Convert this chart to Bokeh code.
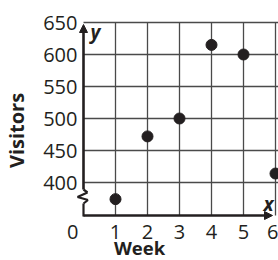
from bokeh.plotting import figure
from bokeh.models import (Range1d, FixedTicker, Arrow, NormalHead, Label,
                          LinearAxis, ColumnDataSource, Grid)
from bokeh.embed import file_html
from bokeh.resources import INLINE

weeks = [1, 2, 3, 4, 5, 6]
visitors = [374, 472, 500, 615, 600, 414]
x_ticks = [1, 2, 3, 4, 5, 6]
y_ticks = [400, 450, 500, 550, 600, 650]
x_title = "Week"
y_title = "Visitors"
origin_label = "0"
origin_pos = -0.34

INK = "#231f20"
GRID = "#4a4a4a"
FONT = "Open Sans"

# pixel geometry of the frame (covers the whole canvas)
px = 50 / 32.0          # data units per pixel on y
ux = 1 / 32.0           # data units per pixel on x
def yimg(v):
    return 650 - (v - 22) * px
def ximg(v):
    return (v - 83) * ux

W, H = 278, 260
y0 = yimg(215)          # height of the horizontal axis
p = figure(width=W, height=H, output_backend="svg", toolbar_location=None,
           x_range=Range1d(ximg(0), ximg(W)), y_range=Range1d(yimg(H), yimg(0)),
           x_axis_type=None, y_axis_type=None,
           min_border_left=0, min_border_bottom=0, min_border_top=0, min_border_right=0)
p.outline_line_color = None
p.background_fill_color = "white"

yax = LinearAxis(ticker=FixedTicker(ticks=y_ticks), axis_label=y_title, fixed_location=0)
yax.axis_line_color = None
yax.major_tick_line_color = None
yax.minor_tick_line_color = None
yax.major_tick_out = 0
yax.major_tick_in = 0
yax.major_label_standoff = 6
yax.major_label_text_font = FONT
yax.major_label_text_font_size = "20px"
yax.major_label_text_color = INK
yax.axis_label_text_font = FONT
yax.axis_label_text_font_style = "bold"
yax.axis_label_text_font_size = "20px"
yax.axis_label_text_color = INK
yax.axis_label_standoff = 10
p.add_layout(yax, "left")

xax = LinearAxis(ticker=FixedTicker(ticks=[origin_pos] + x_ticks), axis_label=x_title,
                 major_label_overrides={origin_pos: origin_label}, fixed_location=y0)
xax.axis_line_color = None
xax.major_tick_line_color = None
xax.minor_tick_line_color = None
xax.major_tick_out = 0
xax.major_tick_in = 0
xax.major_label_standoff = 9
xax.major_label_text_font = FONT
xax.major_label_text_font_size = "20px"
xax.major_label_text_color = INK
xax.axis_label_text_font = FONT
xax.axis_label_text_font_style = "bold"
xax.axis_label_text_font_size = "18.5px"
xax.axis_label_text_color = INK
xax.axis_label_standoff = -7
p.add_layout(xax, "below")

p.add_layout(Grid(dimension=0, ticker=FixedTicker(ticks=x_ticks), cross_bounds=(y0, 650),
                  grid_line_color=GRID, grid_line_width=1.3))
p.add_layout(Grid(dimension=1, ticker=FixedTicker(ticks=y_ticks), cross_bounds=(0, 6.1),
                  grid_line_color=GRID, grid_line_width=1.3))

src = ColumnDataSource(data=dict(week=weeks, visitors=visitors))
p.scatter("week", "visitors", source=src, size=11, fill_color=INK, line_color=INK)

# axes with arrows and a break
p.add_layout(Arrow(x_start=0, y_start=y0, x_end=ximg(272), y_end=y0,
                   line_width=2.6, line_color=INK,
                   end=NormalHead(size=8, fill_color=INK, line_color=INK)))
p.add_layout(Arrow(x_start=0, y_start=yimg(189), x_end=0, y_end=yimg(24),
                   line_width=2.6, line_color=INK,
                   end=NormalHead(size=8, fill_color=INK, line_color=INK)))
zig = [(83, 189), (87, 192), (77, 196.5), (87.5, 199.5), (83, 203), (83, 216)]
for (xa, ya), (xb, yb) in zip(zig[:-1], zig[1:]):
    p.add_layout(Arrow(x_start=ximg(xa), y_start=yimg(ya), x_end=ximg(xb), y_end=yimg(yb),
                       line_width=2.2, line_color=INK, end=None))

p.add_layout(Label(x=ximg(95), y=yimg(31), text="y", text_align="center",
                   text_baseline="middle", text_font=FONT, text_font_style="bold italic",
                   text_font_size="19px", text_color=INK))
p.add_layout(Label(x=ximg(268), y=yimg(203), text="x", text_align="center",
                   text_baseline="middle", text_font=FONT, text_font_style="bold italic",
                   text_font_size="19px", text_color=INK))

open("out.html", "w").write(file_html(p, INLINE))
